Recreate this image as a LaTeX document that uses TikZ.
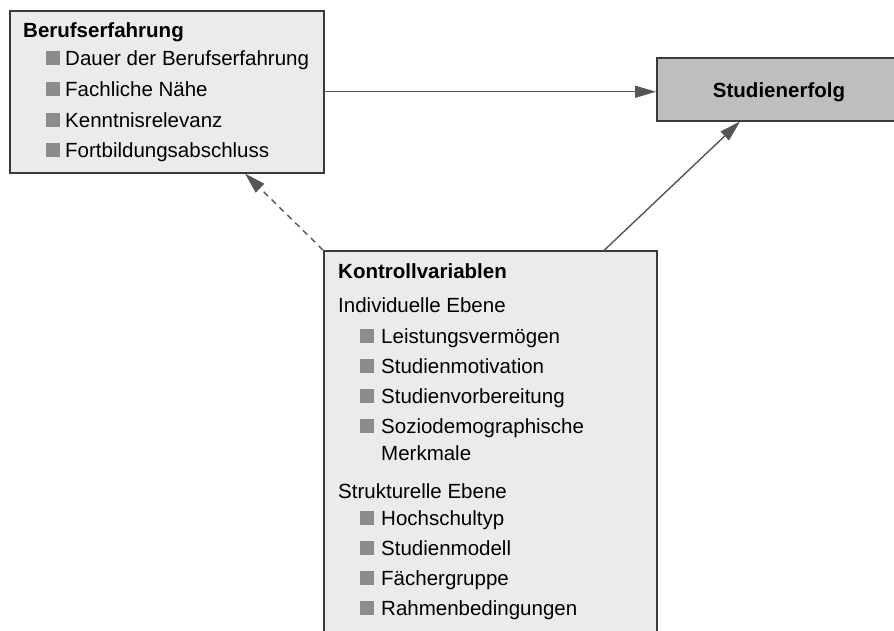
\documentclass[tikz,border=0pt]{standalone}
\usepackage{fontspec}
\setmainfont{Liberation Sans}
\usetikzlibrary{arrows.meta,calc}
\definecolor{boxfill}{HTML}{EBEBEB}
\definecolor{goalfill}{HTML}{BEBEBE}
\definecolor{edgec}{HTML}{3A3A3A}
\definecolor{arrowc}{HTML}{555555}
\definecolor{bulletc}{HTML}{8C8C8C}
\begin{document}
\begin{tikzpicture}[x=1pt,y=-1pt,
  box/.style={draw=edgec, line width=1.5pt, fill=boxfill, rectangle, inner sep=0pt, anchor=north west},
  txt/.style={anchor=base west, inner sep=0pt, font=\fontsize{20.5}{24}\selectfont},
  ttl/.style={txt, font=\fontsize{20.5}{24}\selectfont\bfseries},
  bul/.style={fill=bulletc, inner sep=0pt, minimum size=13.5pt, anchor=south west},
  conn/.style={draw=arrowc, line width=1.4pt, -{Triangle[length=21pt,width=12pt]}}]
\useasboundingbox (0,0) rectangle (894,630);
\clip (0,0) rectangle (894,630);

% boxes
\node[box, minimum width=314pt, minimum height=162pt] (beruf) at (9,10) {};
\node[box, fill=goalfill, minimum width=250pt, minimum height=63pt] (erfolg) at (656,57) {};
\node[box, minimum width=333pt, minimum height=420pt] (kontroll) at (323,250) {};

% Berufserfahrung
\node[ttl] (tberuf) at (23,37) {Berufserfahrung};
\foreach \i/\y/\t in {1/65/Dauer der Berufserfahrung, 2/96/Fachliche Nähe, 3/127/Kenntnisrelevanz, 4/157/Fortbildungsabschluss} {
  \node[bul] (bb\i) at (46,\y) {};
  \node[txt] (tb\i) at (65,\y) {\t};
}

% Studienerfolg
\node[ttl, anchor=base] (terfolg) at (779,97) {Studienerfolg};

% Kontrollvariablen
\node[ttl] (tk) at (338,278) {Kontrollvariablen};
\node[txt] (ind) at (338,312) {Individuelle Ebene};
\foreach \i/\y/\t in {1/343/Leistungsvermögen, 2/373/Studienmotivation, 3/403/Studienvorbereitung, 4/433/Soziodemographische} {
  \node[bul] (bk\i) at (360,\y) {};
  \node[txt] (tk\i) at (381,\y) {\t};
}
\node[txt] (tk5) at (381,460) {Merkmale};
\node[txt] (str) at (338,498) {Strukturelle Ebene};
\foreach \i/\y/\t in {6/525/Hochschultyp, 7/555/Studienmodell, 8/585/Fächergruppe, 9/615/Rahmenbedingungen} {
  \node[bul] (bk\i) at (360,\y) {};
  \node[txt] (tk\i) at (381,\y) {\t};
}

% connectors
\draw[conn] (beruf.east) -- (beruf.east -| erfolg.west);
\draw[conn] ([xshift=-53pt]kontroll.north east) -- ([xshift=84pt]erfolg.south west);
\draw[conn, dash pattern=on 6pt off 5pt] (kontroll.north west) -- ([xshift=236pt]beruf.south west);
\end{tikzpicture}
\end{document}
